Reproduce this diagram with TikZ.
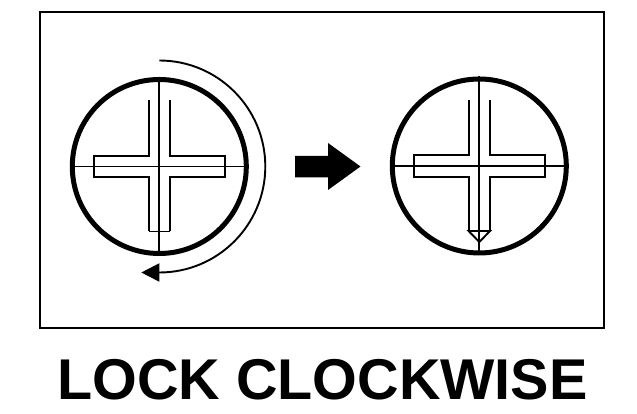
\documentclass[tikz,border=0pt]{standalone}
\usepackage{fontspec}
\setmainfont{Liberation Sans}
\usetikzlibrary{arrows.meta}
\tikzset{
  frame/.style={draw=black,line width=1.3pt,minimum width=564pt,minimum height=316pt,inner sep=0pt},
  rim/.style={draw=black,line width=5pt,circle,minimum size=174pt,inner sep=0pt},
  thin line/.style={draw=black,line width=1.9pt},
  cross/.style={draw=black,line width=1.9pt,line join=miter},
  turn/.style={draw=black,line width=1.9pt,-{Triangle[length=18pt,width=18pt]}},
  caption/.style={font=\fontsize{57.5}{60}\selectfont\bfseries,inner sep=0pt}
}
\newcommand{\screwhead}[1]{%
  \begin{scope}[shift={(#1)}]
    \node[rim] (#1rim) at (0,0) {};
    \draw[thin line] (#1rim.north) -- (#1rim.south);
    \draw[thin line] (#1rim.west) -- (#1rim.east);
    \draw[cross] (-10.7,66) -- (-10.7,10.7) -- (-65.5,10.7) -- (-65.5,-10.7) -- (-10.7,-10.7) -- (-10.7,-65)
      (10.7,-65) -- (10.7,-10.7) -- (65.5,-10.7) -- (65.5,10.7) -- (10.7,10.7) -- (10.7,66);
  \end{scope}}
\begin{document}
\begin{tikzpicture}[x=1pt,y=1pt]
\useasboundingbox (0,0) rectangle (637,414);
\node[frame] (box) at (322,244) {};
\coordinate (L) at (159.3,247.5);
\coordinate (R) at (479.3,248);
\screwhead{L}
\screwhead{R}
% left slot end
\draw[cross] (L)++(-10.7,-65) -- ++(21.4,0);
% right slot pointer
\draw[cross] (R)++(-10.7,-65) -- ++(21.4,0) -- ++(-10.7,-11) -- ++(-10.7,11) -- cycle;
% rotation arc
\coordinate (arcstart) at (159.3,353.5);
\draw[turn] (arcstart) arc[start angle=90,end angle=-90,radius=106pt] -- ++(-18,0);
% big arrow
\fill[black] (295,258) -- (328,258) -- (328,271) -- (360.5,247.5) -- (328,224) -- (328,236.5) -- (295,236.5) -- cycle;
\node[caption] (title) at (322.5,34) {LOCK CLOCKWISE};
\end{tikzpicture}
\end{document}
